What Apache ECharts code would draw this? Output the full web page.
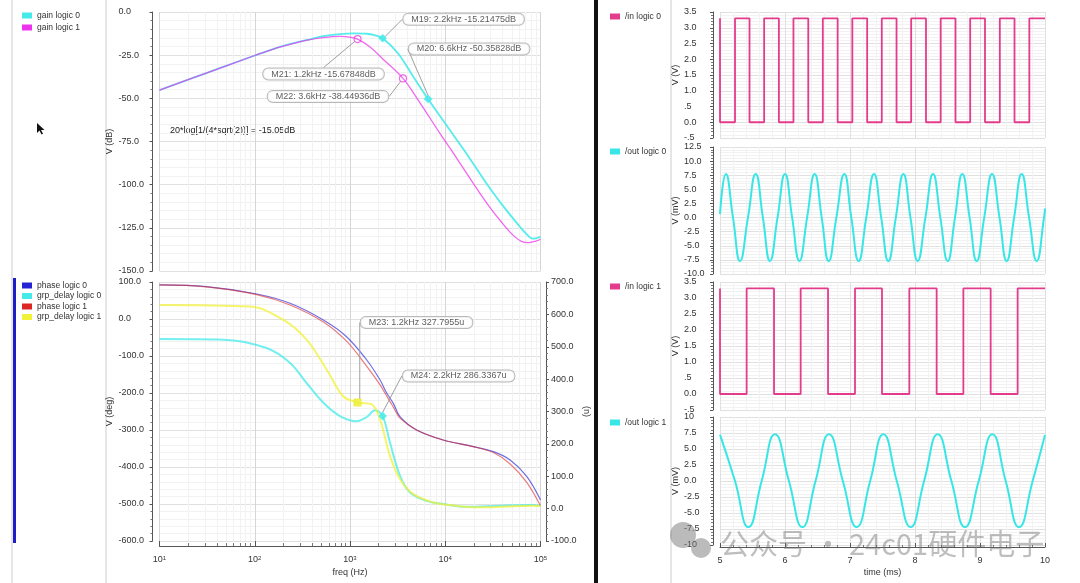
<!DOCTYPE html>
<html>
<head>
<meta charset="utf-8">
<script src="https://cdn.jsdelivr.net/npm/echarts@6/dist/echarts.min.js"></script>
<style>
  html, body { margin: 0; padding: 0; background: #fff; }
  #chart-container { width: 1080px; height: 583px; }
</style>
</head>
<body>
<div id="chart-container"></div>
<script>
// ---- AC sweep: gain (dB) ----
var gainFreq0 = [10, 32, 100, 200, 355, 525, 790, 1100, 1500, 1800, 2200, 3200, 4500, 6600, 10000, 16000, 27000, 40000, 56000, 71000, 83000, 100000];
var gainLogic0 = [-45.2, -35.1, -25.2, -19.6, -16.2, -14.0, -12.8, -12.4, -12.6, -13.4, -15.21, -24.0, -36.5, -50.36, -64.6, -80.5, -99.2, -112.0, -122.0, -128.5, -131.3, -130.2];
var gainFreq1 = [10, 32, 100, 160, 235, 355, 525, 790, 1000, 1200, 1600, 2240, 3600, 5200, 8800, 12600, 19700, 28000, 40000, 52000, 63000, 74000, 89000, 100000];
var gainLogic1 = [-45.2, -35.1, -25.2, -21.3, -18.8, -16.3, -14.8, -14.1, -14.6, -15.68, -20.0, -27.5, -38.45, -51.0, -70.3, -83.0, -99.2, -111.5, -122.5, -129.5, -132.8, -133.6, -132.7, -131.6];

// ---- AC sweep: phase (deg) and group delay (u) ----
var phaseFreq = [10, 31, 105, 235, 525, 920, 1500, 2070, 2400, 2850, 3350, 5000, 9500, 19700, 32000, 48000, 72000, 100000];
var phaseLogic0 = [92, 87.4, 67.6, 42.4, -2.7, -47.8, -110.8, -165, -198, -228, -264, -300, -327, -345, -358.6, -381, -426, -489];
var phaseLogic1 = [92, 87, 66, 38, -8, -60, -128, -178, -206, -238, -268, -300, -327, -345, -361, -392, -442, -505];
var gdFreq0 = [10, 47, 133, 235, 350, 525, 785, 1175, 1500, 1830, 2200, 2630, 3350, 4270, 6380, 9550, 16800, 37600, 84000, 100000];
var grpDelay0 = [523.6, 522, 496, 450, 388, 327, 286, 270, 283, 304, 286.34, 204, 101, 50, 24, 14, 5.5, 9, 11, 9];
var gdFreq1 = [10, 89, 200, 350, 570, 850, 1200, 1690, 2070, 2630, 3350, 4620, 7500, 11200, 21400, 37600, 84000, 100000];
var grpDelay1 = [629, 624, 583, 522, 429, 347, 327.8, 322, 275, 162, 91, 45, 19, 11, 4, 5.5, 9, 8];

// ---- markers ----
var markerName = ["M19", "M20", "M21", "M22", "M23", "M24"];
var markerFreq = [2200, 6600, 1200, 3600, 1200, 2200];
var markerValue = [-15.21475, -50.35828, -15.67848, -38.44936, 327.7955, 286.3367];
var markerUnit = ["dB", "dB", "dB", "dB", "u", "u"];

// ---- transient (time in ms) ----
var timeRange = [5, 10];
var inHigh = 3.3;
var inLogic0Edges = [5.000, 5.231, 5.454, 5.679, 5.906, 6.130, 6.358, 6.582, 6.810, 7.036, 7.264, 7.489, 7.716, 7.941, 8.169, 8.395, 8.623, 8.849, 9.077, 9.305, 9.531, 9.759];
var inLogic1Edges = [5.000, 5.410, 5.831, 6.241, 6.662, 7.077, 7.492, 7.913, 8.333, 8.744, 9.164, 9.579];
var outTime0 = [5.0, 5.09, 5.2, 5.308, 5.43, 5.549, 5.66, 5.769, 5.885, 6.0, 6.11, 6.221, 6.34, 6.456, 6.565, 6.672, 6.79, 6.913, 7.02, 7.133, 7.25, 7.369, 7.48, 7.59, 7.705, 7.821, 7.93, 8.041, 8.16, 8.277, 8.39, 8.503, 8.615, 8.728, 8.84, 8.949, 9.065, 9.185, 9.3, 9.41, 9.525, 9.641, 9.755, 9.872, 9.985, 10.0];
var outLogic0 = [0.6, 7.7, 0, -7.7, 0, 7.7, 0, -7.7, 0, 7.7, 0, -7.7, 0, 7.7, 0, -7.7, 0, 7.7, 0, -7.7, 0, 7.7, 0, -7.7, 0, 7.7, 0, -7.7, 0, 7.7, 0, -7.7, 0, 7.7, 0, -7.7, 0, 7.7, 0, -7.7, 0, 7.7, 0, -7.7, 0, 1.6];
var outTime1 = [5.0, 5.231, 5.436, 5.641, 5.846, 6.06, 6.267, 6.47, 6.677, 6.89, 7.103, 7.31, 7.513, 7.72, 7.933, 8.14, 8.349, 8.56, 8.769, 8.98, 9.19, 9.395, 9.6, 9.81, 10.0];
var outLogic1 = [7.25, 0, -7.2, 0, 7.3, 0, -7.2, 0, 7.3, 0, -7.2, 0, 7.3, 0, -7.2, 0, 7.3, 0, -7.2, 0, 7.3, 0, -7.2, 0, 7.2];

var FONT = "Liberation Sans";
var AXIS_COLOR = "#555";
var GRID_MAJOR = "#e0e0e0";
var GRID_MINOR = "#f2f2f2";

function pairs(xs, ys) {
  return xs.map(function (x, i) { return [x, ys[i]]; });
}

// square wave from toggle times, starting at the high level
function squareWave(edges, high, tEnd) {
  var level = high;
  var out = [];
  edges.forEach(function (t) {
    out.push([t, level]);
    level = level === high ? 0 : high;
    out.push([t, level]);
  });
  out.push([tEnd, level]);
  return out;
}

function fixed1(v) { return v.toFixed(1); }
function halfFmt(v) {
  var s = v.toFixed(1);
  if (s === "0.5") return ".5";
  if (s === "-0.5") return "-.5";
  return s;
}
function logLabel(v) {
  return "{b|10}{s|" + Math.round(Math.log10(v)) + "}";
}

function yAxisBase(grid, min, max, interval, fmt, name, gap) {
  return {
    gridIndex: grid, type: "value", min: min, max: max, interval: interval,
    offset: 7,
    axisLine: { show: true, onZero: false, lineStyle: { color: AXIS_COLOR } },
    axisTick: { show: true, length: 3, lineStyle: { color: AXIS_COLOR } },
    minorTick: { show: true, splitNumber: 5, length: 2, lineStyle: { color: "#777" } },
    axisLabel: { align: "left", margin: 34, fontSize: 9, fontFamily: FONT, color: "#333", formatter: fmt },
    splitLine: { show: true, lineStyle: { color: GRID_MAJOR } },
    minorSplitLine: { show: true, lineStyle: { color: GRID_MINOR } },
    name: name, nameLocation: "middle", nameGap: gap, nameRotate: 90,
    nameTextStyle: { fontSize: 9, fontFamily: FONT, color: "#333" }
  };
}

function timeAxis(grid, bottom) {
  return {
    gridIndex: grid, type: "value", min: timeRange[0], max: timeRange[1], interval: 1,
    offset: bottom ? 2 : 0,
    axisLine: { show: bottom, onZero: false, lineStyle: { color: AXIS_COLOR } },
    axisTick: { show: bottom, inside: true, length: 4, lineStyle: { color: AXIS_COLOR } },
    minorTick: { show: bottom, splitNumber: 5, length: 2, lineStyle: { color: "#777" } },
    axisLabel: { show: bottom, margin: 9, fontSize: 9, fontFamily: FONT, color: "#333" },
    splitLine: { show: true, lineStyle: { color: GRID_MAJOR } },
    minorSplitLine: { show: true, splitNumber: 5, lineStyle: { color: GRID_MINOR } },
    name: bottom ? "time (ms)" : "", nameLocation: "middle", nameGap: 21,
    nameTextStyle: { fontSize: 9, fontFamily: FONT, color: "#333" }
  };
}

function freqAxis(grid, bottom) {
  return {
    gridIndex: grid, type: "log", logBase: 10, min: 10, max: 100000,
    offset: bottom ? 5 : 0,
    axisLine: { show: bottom, onZero: false, lineStyle: { color: AXIS_COLOR } },
    axisTick: { show: bottom, inside: true, length: 5, lineStyle: { color: AXIS_COLOR } },
    minorTick: { show: bottom, splitNumber: 9, length: 3, lineStyle: { color: "#777" } },
    axisLabel: {
      show: bottom, margin: 9, formatter: logLabel,
      rich: {
        b: { fontSize: 9, fontFamily: FONT, color: "#333" },
        s: { fontSize: 6, fontFamily: FONT, color: "#333", verticalAlign: "top" }
      }
    },
    splitLine: { show: true, lineStyle: { color: "#d6d6d6" } },
    minorSplitLine: { show: true, splitNumber: 9, lineStyle: { color: GRID_MINOR } },
    name: bottom ? "freq (Hz)" : "", nameLocation: "middle", nameGap: 22,
    nameTextStyle: { fontSize: 9, fontFamily: FONT, color: "#333" }
  };
}

function curve(name, x, y, xs, ys, color, width, opacity, smooth) {
  return {
    type: "line", name: name, xAxisIndex: x, yAxisIndex: y,
    data: pairs(xs, ys), showSymbol: false, smooth: smooth,
    color: color,
    lineStyle: { width: width, opacity: opacity }
  };
}

// marker look and label offsets (px)
var markerStyle = [
  { x: 0, y: 0, color: "#45eaea", symbol: "diamond", dx: 81, dy: -19 },
  { x: 0, y: 0, color: "#45eaea", symbol: "diamond", dx: 41, dy: -50 },
  { x: 0, y: 0, color: "#ee44ee", symbol: "circle", dx: -34, dy: 35 },
  { x: 0, y: 0, color: "#ee44ee", symbol: "circle", dx: -75, dy: 18 },
  { x: 1, y: 2, color: "#eeee33", symbol: "rect", dx: 59, dy: -80 },
  { x: 1, y: 2, color: "#45eaea", symbol: "diamond", dx: 76, dy: -40 }
];

var markerSeries = markerName.map(function (m, i) {
  var st = markerStyle[i];
  var khz = (markerFreq[i] / 1000).toFixed(1);
  var text = m + ": " + khz + "kHz " + markerValue[i] + markerUnit[i];
  return {
    type: "scatter", name: m, xAxisIndex: st.x, yAxisIndex: st.y,
    data: [[markerFreq[i], markerValue[i]]],
    symbol: st.symbol, symbolSize: 7,
    itemStyle: { color: st.symbol === "circle" ? "rgba(255,255,255,0)" : st.color, borderColor: st.color, borderWidth: 1.2 },
    label: {
      show: true, position: "inside", formatter: text,
      fontSize: 9, fontFamily: FONT, color: "#333",
      backgroundColor: "#fff", borderColor: "#a8a8a8", borderWidth: 1, borderRadius: 5,
      padding: [1, 8, 1, 8]
    },
    labelLayout: { dx: st.dx, dy: st.dy },
    labelLine: { show: true, lineStyle: { color: "#a0a0a0", width: 1 } },
    z: 6
  };
});

var dom = document.getElementById("chart-container");
var myChart = echarts.init(dom, null, { renderer: "canvas" });

var legendText = { fontSize: 8.5, fontFamily: FONT, color: "#333" };
function legendAt(names, left, top, gap) {
  return {
    data: names, orient: "vertical", left: left, top: top, itemGap: gap, padding: 0,
    icon: "rect", itemWidth: 10, itemHeight: 6, textStyle: legendText,
    selectedMode: false
  };
}

var option = {
  animation: false,
  backgroundColor: "#fff",
  legend: [
    legendAt(["gain logic 0", "gain logic 1"], 22, 11, 3),
    legendAt(["phase logic 0", "grp_delay logic 0", "phase logic 1", "grp_delay logic 1"], 22, 281, 1.5),
    legendAt(["/in logic 0"], 610, 12, 2),
    legendAt(["/out logic 0"], 610, 147, 2),
    legendAt(["/in logic 1"], 610, 282, 2),
    legendAt(["/out logic 1"], 610, 418, 2)
  ],
  grid: [
    { left: 159.5, top: 12, width: 381, height: 259, outerBoundsMode: "none" },
    { left: 159.5, top: 282, width: 381, height: 259, outerBoundsMode: "none" },
    { left: 720, top: 12, width: 325, height: 126, outerBoundsMode: "none" },
    { left: 720, top: 147, width: 325, height: 127, outerBoundsMode: "none" },
    { left: 720, top: 282, width: 325, height: 128, outerBoundsMode: "none" },
    { left: 720, top: 417, width: 325, height: 128, outerBoundsMode: "none" }
  ],
  xAxis: [
    freqAxis(0, false),
    freqAxis(1, true),
    timeAxis(2, false),
    timeAxis(3, false),
    timeAxis(4, false),
    timeAxis(5, true)
  ],
  yAxis: [
    yAxisBase(0, -150, 0, 25, fixed1, "V (dB)", 38),
    yAxisBase(1, -600, 100, 100, fixed1, "V (deg)", 38),
    (function () {
      var a = yAxisBase(1, -100, 700, 100, fixed1, "(u)", 36);
      a.position = "right";
      a.offset = 5.5;
      a.axisLabel.margin = 5;
      a.splitLine = { show: false };
      a.minorSplitLine = { show: false };
      return a;
    })(),
    yAxisBase(2, -0.5, 3.5, 0.5, halfFmt, "V (V)", 32),
    yAxisBase(3, -10, 12.5, 2.5, fixed1, "V (mV)", 32),
    yAxisBase(4, -0.5, 3.5, 0.5, halfFmt, "V (V)", 32),
    yAxisBase(5, -10, 10, 2.5, function (v) { return Math.abs(v) === 10 ? String(v) : v.toFixed(1); }, "V (mV)", 32)
  ].map(function (a, i) {
    if (i >= 3) { a.axisLabel.margin = 29; }
    return a;
  }),
  series: [
    curve("gain logic 0", 0, 0, gainFreq0, gainLogic0, "#45eaea", 1.8, 0.9, 0.35),
    curve("gain logic 1", 0, 0, gainFreq1, gainLogic1, "#ee33ee", 1.3, 0.75, 0.35),
    curve("phase logic 0", 1, 1, phaseFreq, phaseLogic0, "#2424d4", 1.2, 0.65, 0.35),
    curve("grp_delay logic 0", 1, 2, gdFreq0, grpDelay0, "#45eaea", 2, 0.75, 0.35),
    curve("phase logic 1", 1, 1, phaseFreq, phaseLogic1, "#dd2626", 1.2, 0.6, 0.35),
    curve("grp_delay logic 1", 1, 2, gdFreq1, grpDelay1, "#f2f23a", 2, 0.75, 0.35),
    {
      type: "line", name: "/in logic 0", xAxisIndex: 2, yAxisIndex: 3,
      data: squareWave(inLogic0Edges, inHigh, timeRange[1]), showSymbol: false,
      color: "#e43c8c", lineStyle: { width: 1.8 }
    },
    curve("/out logic 0", 3, 4, outTime0, outLogic0, "#38e6e6", 2, 1, 0.5),
    {
      type: "line", name: "/in logic 1", xAxisIndex: 4, yAxisIndex: 5,
      data: squareWave(inLogic1Edges, inHigh, timeRange[1]), showSymbol: false,
      color: "#e43c8c", lineStyle: { width: 1.8 }
    },
    curve("/out logic 1", 5, 6, outTime1, outLogic1, "#38e6e6", 2, 1, 0.5)
  ].concat(markerSeries),
  graphic: [
    { type: "line", shape: { x1: 12, y1: 0, x2: 12, y2: 583 }, style: { stroke: "#cccccc", lineWidth: 1 } },
    { type: "line", shape: { x1: 106, y1: 0, x2: 106, y2: 583 }, style: { stroke: "#cccccc", lineWidth: 1 } },
    { type: "rect", shape: { x: 13, y: 278, width: 3, height: 265 }, style: { fill: "#1e1ec8" } },
    { type: "rect", shape: { x: 594, y: 0, width: 4, height: 583 }, style: { fill: "#111" } },
    { type: "line", shape: { x1: 671, y1: 0, x2: 671, y2: 583 }, style: { stroke: "#cccccc", lineWidth: 1 } },
    {
      type: "polygon",
      shape: { points: [[37, 123], [37, 133], [39.5, 130.5], [41.5, 134.5], [43, 133.8], [41, 130], [44.5, 130]] },
      style: { fill: "#111" }
    },
    {
      type: "text", x: 170, y: 131,
      style: { text: "20*log[1/(4*sqrt(2))] = -15.05dB", fontSize: 9, fontFamily: FONT, fill: "#222", verticalAlign: "middle" }
    },
    { type: "circle", z: 100, shape: { cx: 683, cy: 535, r: 13 }, style: { fill: "rgba(120,120,120,0.5)" } },
    { type: "circle", z: 100, shape: { cx: 701, cy: 548, r: 10 }, style: { fill: "rgba(120,120,120,0.5)" } },
    {
      type: "text", z: 100, x: 720, y: 544,
      style: {
        text: "公众号 · 24c01硬件电子", fontSize: 29, fontFamily: "Noto Sans CJK SC",
        fill: "rgba(110,110,110,0.45)", verticalAlign: "middle"
      }
    }
  ]
};

myChart.setOption(option);
window.addEventListener("resize", myChart.resize);
</script>
</body>
</html>
